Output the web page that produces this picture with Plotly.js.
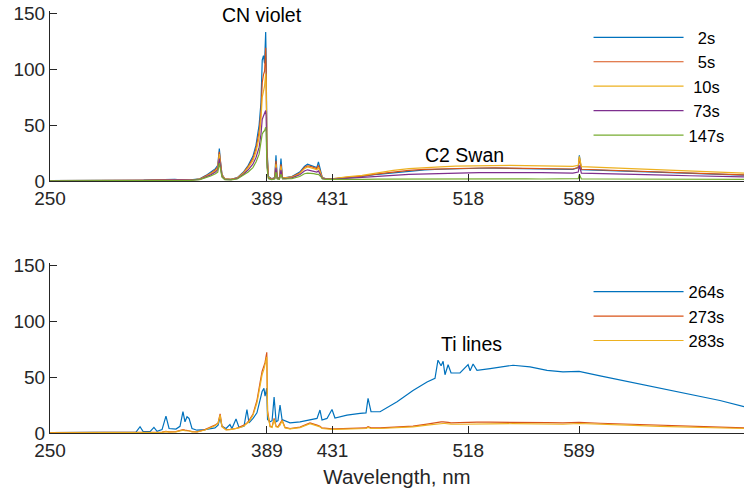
<!DOCTYPE html>
<html>
<head>
<meta charset="utf-8">
<script src="https://cdn.plot.ly/plotly-3.0.1.min.js"></script>
<style>html,body{margin:0;padding:0;background:#fff;}#chart{width:744px;height:490px;}</style>
</head>
<body>
<div id="chart"></div>
<script>
// ---------- Top panel data ----------
const topWavelength = [250,270,290,310,330,335,340,346,350,353,356,357.5,358.5,359.2,360.2,362,366,370,374,377,380,382,384,385.2,386,386.8,387.5,388.2,388.5,389,390,392,394,394.8,395.6,397,398,399,401,405,410,413,415,417,419,421,422,423.5,424.5,427,432,440,450,460,470,480,490,500,510,518,525,535,545,555,565,575,585,588.5,589.2,590.5,600,615,630,645,660,675,690,695];
const s2s   = [0.3,0.3,0.5,0.7,1.5,0.8,1.0,2.0,5,8,11,14,29,18,6,2,1.5,3,8,14,22,32,50,70,108,112,105,133,110,30,4,2,3,23,3,2.5,20,3,3,4,8,13,15,14,13,12,17,8,3,2,2,3,4,6,7.5,9,10,10.5,11,11.2,11.4,11.5,11.3,11.1,10.9,10.6,10.4,12,23,10.2,9.8,9.2,8.5,7.7,6.9,6.2,5.5,5.3];
const s5s   = [0.3,0.3,0.4,0.6,1.3,0.8,0.9,1.8,4.5,7,10,12.5,26,16,5.5,2,1.5,2.8,7.5,13,20,29,44,62,88,95,98,119,100,26,3.5,2,2.8,18,2.8,2.3,15,2.8,2.8,3.7,7,12,13.5,13,12,11,14,7,2.8,2,2.1,3.2,4.3,6.3,8,9.5,10.3,10.8,11.2,11.4,11.6,11.7,11.6,11.4,11.2,10.9,10.7,12,21,10.5,10.1,9.5,8.8,8,7.2,6.4,5.7,5.5];
const s10s  = [0.3,0.3,0.4,0.6,1.2,0.7,0.9,1.6,4,6.5,9,11.5,24,14,5,1.8,1.4,2.6,7,12,18,26,39,55,75,80,85,96,88,22,3,1.8,2.5,15,2.5,2.1,13,2.5,2.6,3.4,6.5,11,12.5,12,11,10,12,6.5,2.6,1.9,2.2,3.6,5,7.3,9.5,11,12,12.7,13.2,13.5,13.8,14,14,13.8,13.6,13.3,13.0,14,22,12.8,12.3,11.5,10.6,9.6,8.7,7.9,7.2,7.0];
const s73s  = [0.2,0.2,0.3,0.5,1.0,0.6,0.8,1.4,3.5,5.5,8,10,20,12,4,1.5,1.2,2.2,6,10,15,21,30,42,55,58,60,63,58,16,2.5,1.5,2.2,12,2.2,1.8,10,2.2,2.2,2.8,5.5,9,10,9.5,9,8,9,5,2.2,1.7,1.6,2.3,3,4,5,6,6.5,6.9,7.2,7.3,7.5,7.6,7.6,7.5,7.4,7.2,7.1,8,14,7,6.8,6.3,5.8,5.2,4.7,4.2,3.7,3.6];
const s147s = [0.2,0.2,0.3,0.4,0.8,0.5,0.6,1.2,3,4.5,6.5,8,16,10,3.5,1.3,1.0,1.8,5,8,12,17,24,33,42,44,45,48,44,12,2,1.3,1.8,8,1.8,1.5,6,1.8,1.8,2.2,4,6.5,7,7,6.5,6,6,4,1.8,1.4,1.3,1.4,1.5,1.6,1.7,1.8,1.8,1.8,1.9,1.9,1.9,1.9,1.9,1.9,1.8,1.8,1.8,2.2,6,1.8,1.8,1.7,1.7,1.6,1.5,1.5,1.4,1.4];

// ---------- Bottom panel data ----------
const botWavelength = [250,282,305.1,307.7,309.6,314.1,316.6,318.6,321.8,324.3,326.3,330.7,333.3,335.2,336.5,337.8,339.1,341,344.2,349.3,352.5,355.7,357.7,359,360.2,362.8,365.3,366.6,369.2,371.1,374.3,376.2,377.5,380.1,382.6,384.6,385.9,387.1,387.8,388.9,389.4,391,392.3,393.6,394.9,396.1,397.4,398.7,400.6,403.8,410.2,416.6,421.1,423,424.3,427.5,430.7,432.6,440.3,448.7,452.5,453.8,455.7,461.5,472.4,482.6,491.6,496.7,498.6,500.6,501.9,503.1,505.1,507,512.7,517.9,519.2,521.1,523.6,532,546.7,557.6,568.5,578.7,589,602.5,619.8,640.9,662,679.3,694.7];
const s264s = [0.3,0.4,0.8,5.6,1.5,1.2,5,1.5,3,15,4,3.5,6,19,10,14.5,13,4,2.5,3,3.5,4.5,7,14,6,4,7.5,4,12.5,5,6,21,9,13,18,30,37,40,33,40,12,10,11,32,10,11,25,12,11,9,10,11.6,13,20.5,11.6,13,21,13.4,16,17.5,18,31,19,19,28,38,45.5,48.8,65,60,64,52,61,53.6,53.6,61,55.6,61.6,56,57.5,60.5,59,56,54.5,55,51,46,40,34,29,23.5];
const s273s = [0.3,0.3,0.4,0.5,0.5,0.5,0.6,0.6,0.8,1.5,1.0,1.2,2,3,2.5,2.5,2,1.2,1,3,5,7,9,17,6,3,3.3,3.5,4,5,7,9,11,17,29,45,55,60,63,72,20,6,5.5,13,6,5.5,8,11.6,5,4,5.3,9,7,6,4.5,3.8,3.7,3.6,3.9,4.3,4.5,5.6,4.6,4.5,5.5,6.2,8,9.5,10,10,10,10,9.5,9,9.2,9.5,9.5,10,9.7,9.7,9.8,9.6,9.3,9,9.5,8.7,8,7,5.8,5.2,4.5];
const s283s = [0.2,0.3,0.3,0.4,0.4,0.4,0.5,0.5,0.6,1.2,0.8,1.0,1.6,2.5,2,2.2,1.8,1,0.9,2.7,4.5,6.5,8.5,16,5.5,2.8,3,3.2,3.6,4.5,6.3,8.5,10,16,27,42,52,57,61,68,18,5.5,5,12,5.5,5,7,11,4.5,3.7,4.8,8.3,6.4,5.5,4,3.4,3.3,3.2,3.4,3.7,4,5,4,4,4.8,5.5,7,8,8.5,8.5,8.5,8.5,8.2,8,7.8,8,8,8,8,8.2,8.3,8.2,8,7.8,8.5,7.6,7,6,5,4.5,4];

const xTickVals = [250,389,431,518,589];
const yTickVals = [0,50,100,150];

const colors = ['#0072BD','#D95319','#EDB120','#7E2F8E','#77AC30'];
const fs = '\u2007';   // figure space (digit width)
const ps = '\u2008';   // punctuation space (about half a digit)

function tr(x, y, name, color, xa, ya, leg) {
  return {x: x, y: y, name: name, type: 'scatter', mode: 'lines',
          line: {color: color, width: 1.2}, xaxis: xa, yaxis: ya, legend: leg};
}

const data = [
  tr(topWavelength, s2s,   fs+'2s'+fs,   colors[0], 'x', 'y', 'legend'),
  tr(topWavelength, s5s,   fs+'5s'+fs,   colors[1], 'x', 'y', 'legend'),
  tr(topWavelength, s10s,  ps+'10s'+ps,  colors[2], 'x', 'y', 'legend'),
  tr(topWavelength, s73s,  ps+'73s'+ps,  colors[3], 'x', 'y', 'legend'),
  tr(topWavelength, s147s, '147s',       colors[4], 'x', 'y', 'legend'),
  tr(botWavelength, s264s, '264s', colors[0], 'x2', 'y2', 'legend2'),
  tr(botWavelength, s273s, '273s', colors[1], 'x2', 'y2', 'legend2'),
  tr(botWavelength, s283s, '283s', colors[2], 'x2', 'y2', 'legend2')
];

const fontFam = '"Liberation Sans", Arial, Helvetica, sans-serif';
const axCol = '#262626';

function xaxis(anchor, title) {
  const a = {anchor: anchor, range: [250, 694.7], tickmode: 'array', tickvals: xTickVals,
    ticks: 'inside', ticklen: 7, tickwidth: 1, tickcolor: axCol,
    showline: true, linecolor: axCol, linewidth: 1, showgrid: false, zeroline: false,
    tickfont: {size: 19, color: axCol, family: fontFam}, automargin: false};
  if (title) a.title = {text: title, font: {size: 20.5, color: axCol, family: fontFam}, standoff: 9};
  return a;
}
function yaxis(anchor, dom) {
  return {anchor: anchor, domain: dom, range: [0, 152], tickmode: 'array', tickvals: yTickVals,
    ticks: 'inside', ticklen: 7, tickwidth: 1, tickcolor: axCol,
    showline: true, linecolor: axCol, linewidth: 1, showgrid: false, zeroline: false,
    tickfont: {size: 19, color: axCol, family: fontFam}, automargin: false};
}

const legendBase = {xanchor: 'left', yanchor: 'top', bgcolor: 'rgba(0,0,0,0)', borderwidth: 0,
  itemwidth: 90, font: {size: 16.5, color: '#000', family: fontFam}, tracegroupgap: 0};

const annFont = {size: 19.5, color: '#000', family: fontFam};

const layout = {
  width: 744, height: 490,
  margin: {l: 50, r: 0, t: 0, b: 0, pad: 0},
  paper_bgcolor: '#fff', plot_bgcolor: '#fff',
  font: {family: fontFam, color: axCol},
  showlegend: true,
  xaxis: xaxis('y', null),
  yaxis: yaxis('x', [1 - 181/490, 1 - 10.8/490]),
  xaxis2: xaxis('y2', 'Wavelength, nm'),
  yaxis2: yaxis('x2', [1 - 433/490, 1 - 262.8/490]),
  legend: Object.assign({x: 0.776, y: 0.959}, legendBase),
  legend2: Object.assign({x: 0.776, y: 0.44}, legendBase),
  annotations: [
    {text: 'CN violet', x: 386, y: 148, xref: 'x', yref: 'y', showarrow: false, xanchor: 'center', yanchor: 'middle', font: annFont},
    {text: 'C2 Swan', x: 515.5, y: 23.2, xref: 'x', yref: 'y', showarrow: false, xanchor: 'center', yanchor: 'middle', font: annFont},
    {text: 'Ti lines', x: 519.8, y: 79.5, xref: 'x2', yref: 'y2', showarrow: false, xanchor: 'center', yanchor: 'middle', font: annFont}
  ]
};

Plotly.newPlot('chart', data, layout, {displayModeBar: false, staticPlot: true});
</script>
</body>
</html>
